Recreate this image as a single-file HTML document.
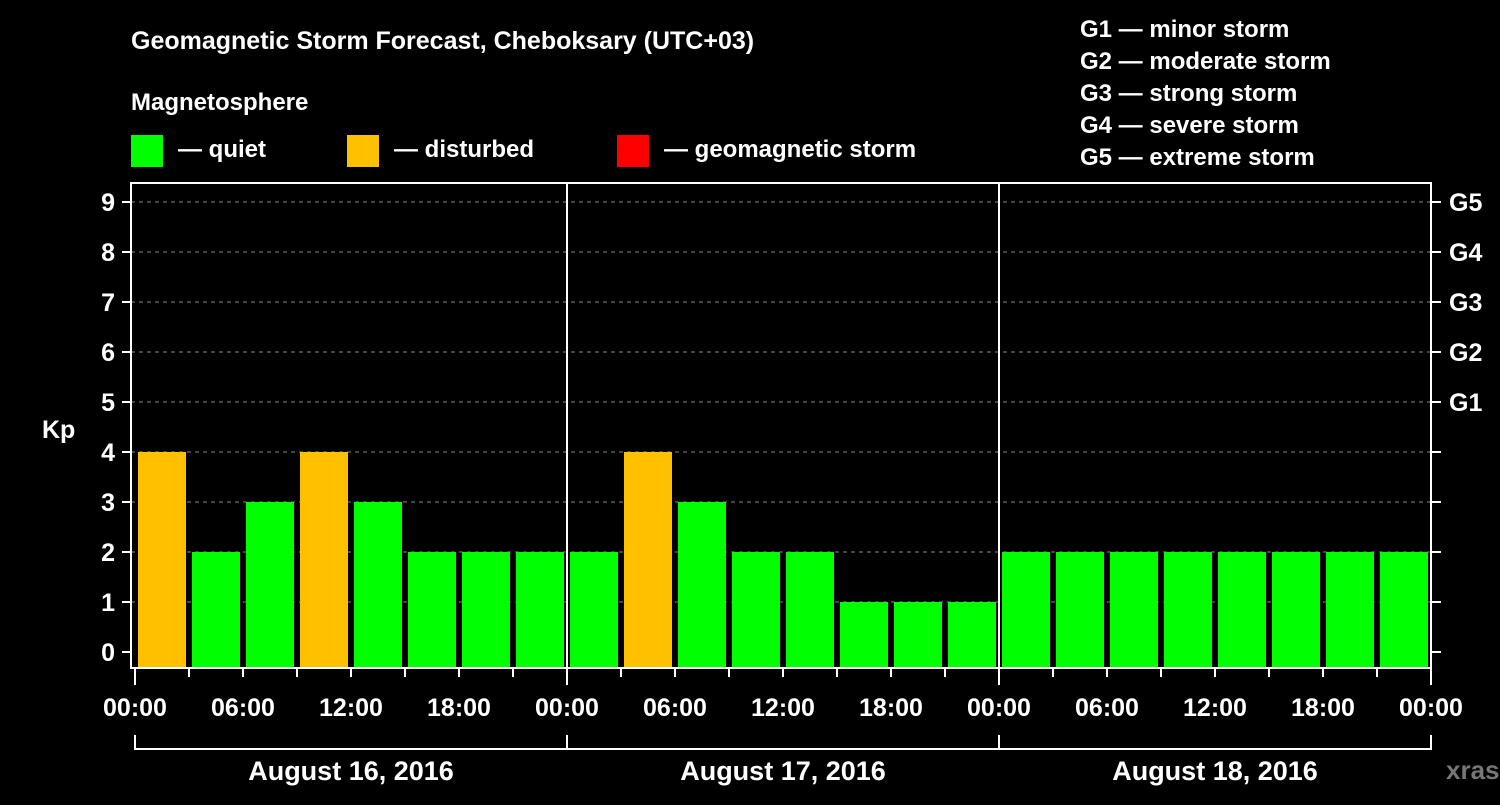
<!DOCTYPE html>
<html><head><meta charset="utf-8"><style>
body{margin:0;background:#000;width:1500px;height:800px;overflow:hidden;font-family:"Liberation Sans",sans-serif}
svg text{font-family:"Liberation Sans",sans-serif;font-weight:bold;fill:#fff}
</style></head><body>
<svg width="1500" height="800">
<text x="131" y="49" font-size="25">Geomagnetic Storm Forecast, Cheboksary (UTC+03)</text>
<text x="131" y="110" font-size="24">Magnetosphere</text>
<rect x="131" y="135" width="32" height="32" fill="#00ff00"/>
<text x="178" y="157" font-size="24">— quiet</text>
<rect x="347" y="135" width="32" height="32" fill="#ffc000"/>
<text x="394" y="157" font-size="24">— disturbed</text>
<rect x="617" y="135" width="32" height="32" fill="#ff0000"/>
<text x="664" y="157" font-size="24">— geomagnetic storm</text>
<g font-size="24">
<text x="1080" y="37">G1 — minor storm</text>
<text x="1080" y="69">G2 — moderate storm</text>
<text x="1080" y="101">G3 — strong storm</text>
<text x="1080" y="133">G4 — severe storm</text>
<text x="1080" y="165">G5 — extreme storm</text>
</g>
<text x="42" y="438" font-size="25">Kp</text>
<g id="plot"></g>
<text x="1446" y="779" font-size="26" style="fill:#777">xras.ru</text>
</svg>
<script>
const kpValues=[4,2,3,4,3,2,2,2, 2,4,3,2,2,1,1,1, 2,2,2,2,2,2,2,2];
const dayLabels=["August 16, 2016","August 17, 2016","August 18, 2016"];
const timeLabels=["00:00","06:00","12:00","18:00"];
const yTicks=[0,1,2,3,4,5,6,7,8,9];
const gLabels=["G1","G2","G3","G4","G5"];
const gLevels=[5,6,7,8,9];
const NS="http://www.w3.org/2000/svg";
const g=document.getElementById('plot');
const X0=135,HW=18,Y0=652,UY=50,TOP=183,BOT=668,L=131,R=1431;
const x=h=>X0+h*HW, y=v=>Y0-v*UY;
function mk(t,a,txt){const e=document.createElementNS(NS,t);for(const k in a)e.setAttribute(k,a[k]);if(txt!==undefined)e.textContent=txt;g.appendChild(e);return e;}
yTicks.forEach(v=>{
 if(v>0){const l=mk('line',{x1:L,x2:R,y1:y(v),y2:y(v),stroke:'#888','stroke-dasharray':'4,4','stroke-width':1});
 
 }
 mk('line',{x1:L-9,x2:L,y1:y(v),y2:y(v),stroke:'#fff','stroke-width':2});
 mk('line',{x1:R,x2:R+10,y1:y(v),y2:y(v),stroke:'#fff','stroke-width':2});
 const t=mk('text',{x:115,y:y(v)+9,'font-size':25,'text-anchor':'end'},String(v));
 
 
});
gLabels.forEach((s,i)=>{const t=mk('text',{x:1449,y:y(gLevels[i])+9,'font-size':25},s);
 
 });
kpValues.forEach((v,i)=>{
 const c=v>=5?'#ff0000':(v>=4?'#ffc000':'#00ff00');
 const r=mk('rect',{x:x(i*3)+3,y:y(v),width:48,height:BOT-y(v),fill:c});
 
 
});
mk('rect',{x:L,y:TOP,width:R-L,height:BOT-TOP,fill:'none',stroke:'#fff','stroke-width':2});
[1,2].forEach(d=>{const l=mk('line',{x1:x(d*24),x2:x(d*24),y1:TOP,y2:BOT,stroke:'#fff','stroke-width':2});
 
 });
for(let h=0;h<=72;h+=3){
 const big=h%6===0;
 mk('line',{x1:x(h),x2:x(h),y1:BOT,y2:BOT+(h%24===0?17:9),stroke:'#fff','stroke-width':2});
 if(big){const t=mk('text',{x:x(h),y:716,'font-size':25,'text-anchor':'middle'},timeLabels[(h%24)/6]);
 
 }
}
mk('polyline',{points:`${x(0)},735 ${x(0)},749 ${x(72)},749 ${x(72)},735`,fill:'none',stroke:'#fff','stroke-width':2});
[1,2].forEach(d=>mk('line',{x1:x(d*24),x2:x(d*24),y1:735,y2:749,stroke:'#fff','stroke-width':2}));
dayLabels.forEach((s,d)=>{const t=mk('text',{x:x(d*24+12),y:780,'font-size':27,'text-anchor':'middle'},s);
 
 });
</script>
</body></html>
